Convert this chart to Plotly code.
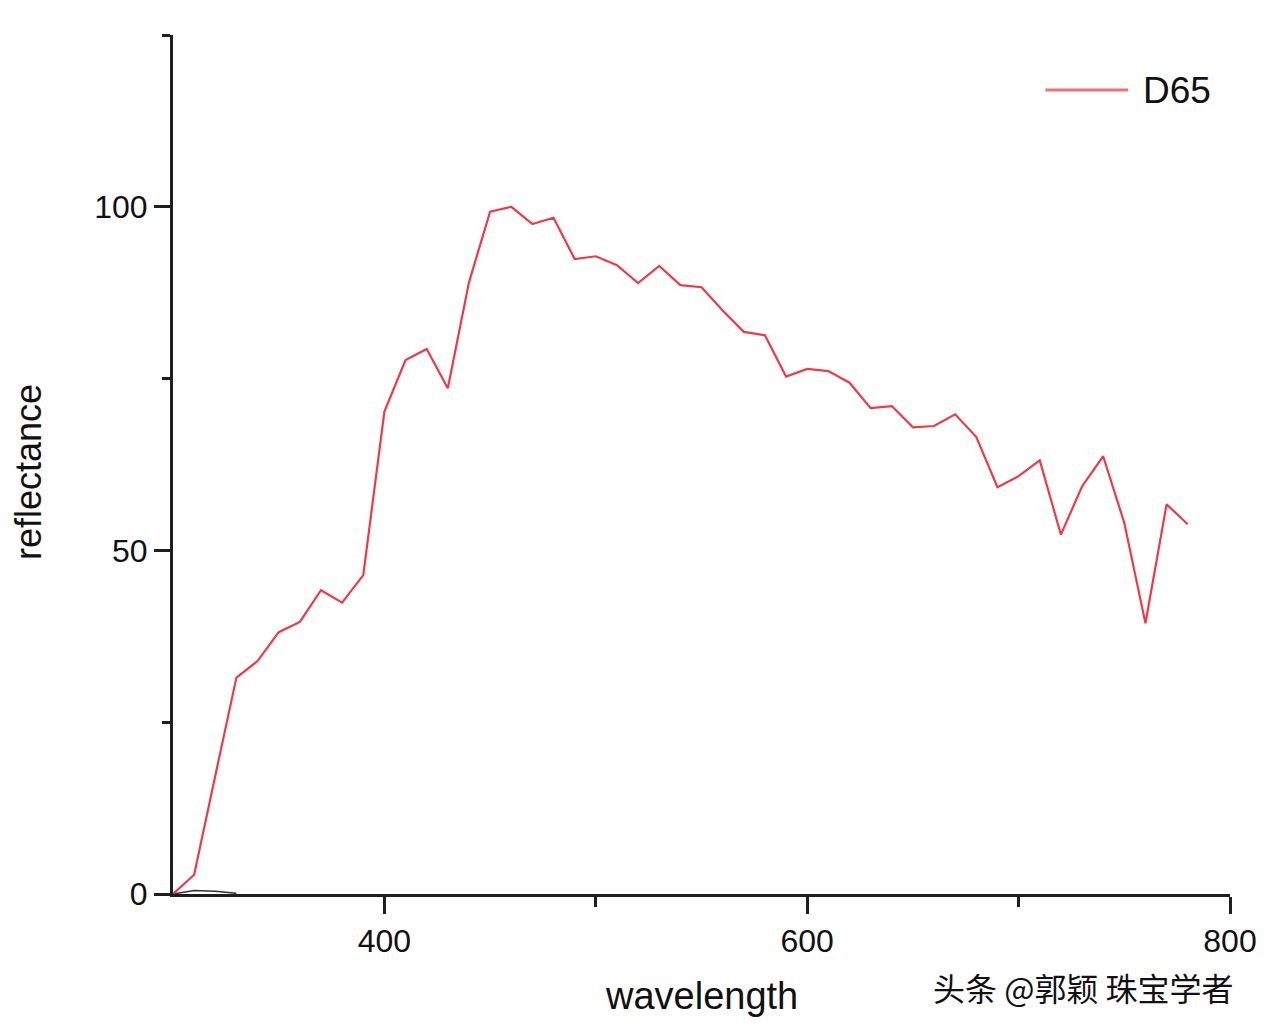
import plotly.graph_objects as go

# wavelength (nm)
wavelength = [300, 310, 320, 330, 340, 350, 360, 370, 380, 390,
              400, 410, 420, 430, 440, 450, 460, 470, 480, 490,
              500, 510, 520, 530, 540, 550, 560, 570, 580, 590,
              600, 610, 620, 630, 640, 650, 660, 670, 680, 690,
              700, 710, 720, 730, 740, 750, 760, 770, 780]
# D65 relative values
d65 = [0.0, 2.8, 17.2, 31.5, 33.9, 38.1, 39.6, 44.2, 42.4, 46.4,
       70.2, 77.7, 79.3, 73.6, 89.0, 99.3, 100.0, 97.5, 98.4, 92.4,
       92.8, 91.5, 88.9, 91.4, 88.6, 88.3, 84.9, 81.8, 81.3, 75.3,
       76.4, 76.1, 74.4, 70.7, 71.0, 67.9, 68.1, 69.8, 66.5, 59.2,
       60.8, 63.1, 52.3, 59.3, 63.7, 54.0, 39.4, 56.7, 53.8]

# faint dark trace near zero at the start
dark_x = [300, 310, 320, 330]
dark_y = [0.0, 0.5, 0.4, 0.1]

x_major = [400, 600, 800]
x_minor = [500, 700]
y_major = [0, 50, 100]
y_minor = [25, 75, 125]

LINE_RED = "#EE3A48"
AX = "#1e1e1e"
FONT = "Liberation Sans, Arial, sans-serif"

fig = go.Figure()
fig.add_trace(go.Scatter(x=dark_x, y=dark_y, mode="lines",
                         line=dict(color="#333333", width=1.5),
                         showlegend=False, hoverinfo="skip"))
fig.add_trace(go.Scatter(x=wavelength, y=d65, mode="lines", name="D65",
                         line=dict(color=LINE_RED, width=2.2),
                         showlegend=False))

# page body has an 8px margin; target plot area in screen px:
OFF = 8
SL, SR, ST, SB = 173, 1232, 35, 894   # screen coords of plot area
W, H = 1269 - OFF, 1028 - OFF
L, T = SL - OFF, ST - OFF
R = (OFF + W) - SR
B = (OFF + H) - SB
pw, ph = SR - SL, SB - ST

def px(xp):
    return (xp - SL) / pw

def py(yp):
    return (SB - yp) / ph

fig.update_layout(
    width=W, height=H,
    margin=dict(l=L, r=R, t=T, b=B),
    plot_bgcolor="white", paper_bgcolor="white",
    font=dict(family=FONT, color="#111111"),
    xaxis=dict(range=[300, 800], showgrid=False, zeroline=False,
               showline=True, linecolor=AX, linewidth=3,
               tickmode="array", tickvals=x_major,
               ticktext=[str(v) for v in x_major],
               ticks="outside", ticklen=17, tickwidth=3, tickcolor=AX,
               tickfont=dict(size=32, family=FONT, color="#111111"),
               minor=dict(tickmode="array", tickvals=x_minor, ticks="outside",
                          ticklen=10, tickwidth=3, tickcolor=AX, showgrid=False)),
    yaxis=dict(range=[0, 125], showgrid=False, zeroline=False,
               showline=True, linecolor=AX, linewidth=3,
               tickmode="array", tickvals=y_major,
               ticktext=[str(v) for v in y_major],
               ticks="outside", ticklen=16, tickwidth=3, tickcolor=AX,
               tickfont=dict(size=32, family=FONT, color="#111111"),
               minor=dict(tickmode="array", tickvals=y_minor, ticks="outside",
                          ticklen=8, tickwidth=3, tickcolor=AX, showgrid=False)),
    showlegend=False,
)

# legend drawn as shape + label
fig.add_shape(type="line", xref="paper", yref="paper",
              x0=px(1047), x1=px(1130), y0=py(90), y1=py(90),
              line=dict(color="#F07078", width=3))
fig.add_annotation(xref="paper", yref="paper", x=px(1143), y=py(90),
                   xanchor="left", yanchor="middle", showarrow=False,
                   text="D65", font=dict(size=37, family=FONT, color="#111111"))

# axis titles
fig.add_annotation(xref="paper", yref="paper", x=0.5, y=0, yshift=-102,
                   xanchor="center", yanchor="middle", showarrow=False,
                   text="wavelength", font=dict(size=38, family=FONT, color="#111111"))
fig.add_annotation(xref="paper", yref="paper", x=0, y=py(472), xshift=-144,
                   xanchor="center", yanchor="middle", showarrow=False,
                   textangle=-90, borderpad=0,
                   text="reflectance", font=dict(size=36, family=FONT, color="#111111"))

# watermark
fig.add_annotation(xref="paper", yref="paper", x=px(1238), y=py(987),
                   xanchor="right", yanchor="middle", showarrow=False,
                   text="头条 @郭颖 珠宝学者",
                   font=dict(size=32, family="Noto Sans CJK SC", color="#111111"))

fig.write_html("out.html")
